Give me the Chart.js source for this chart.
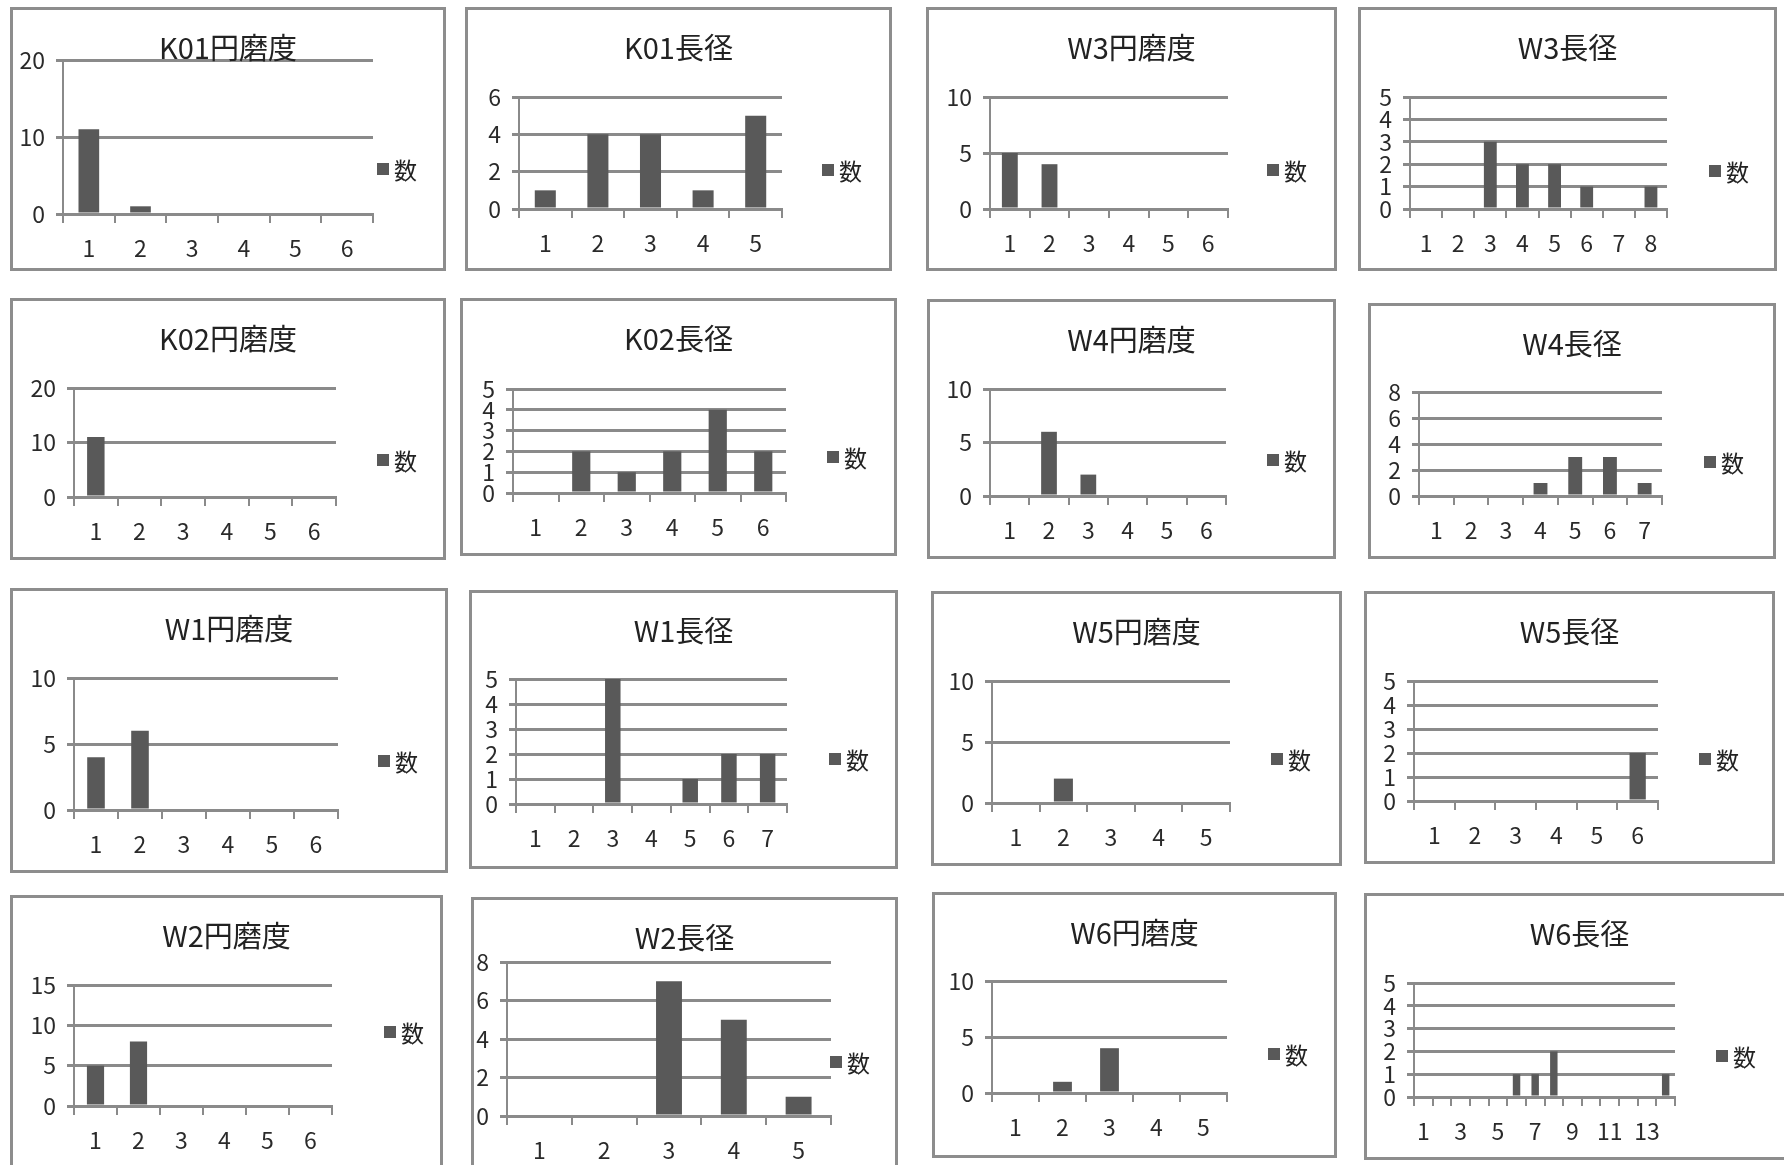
<!DOCTYPE html>
<html lang="ja">
<head>
<meta charset="utf-8">
<title>円磨度・長径の度数分布</title>
<script src="https://cdn.jsdelivr.net/npm/chart.js@4.4.1/dist/chart.umd.min.js"></script>
<style>
  html, body { margin: 0; padding: 0; background: #fff; overflow: hidden; width: 1784px; height: 1165px; }
  .frame { position: absolute; box-sizing: border-box; border: 3px solid #8d8d8d; pointer-events: none; }
  canvas.plot { position: absolute; }
  .title { position: absolute; text-align: center; font-family: 'Noto Sans CJK JP', sans-serif; font-size: 29px; color: #222; height: 32px; line-height: 32px; white-space: nowrap; }
  .legend { position: absolute; font-family: 'Noto Sans CJK JP', sans-serif; font-size: 23px; color: #222; height: 26px; line-height: 26px; display: flex; align-items: center; white-space: nowrap; }
  .legend i { display: inline-block; width: 12px; height: 12px; background: #595959; margin-right: 5px; }
</style>
</head>
<body>
<script>
// ---- series name and category labels ----
const seriesName = '数';
const cats5 = ['1', '2', '3', '4', '5'];
const cats6 = ['1', '2', '3', '4', '5', '6'];
const cats7 = ['1', '2', '3', '4', '5', '6', '7'];
const cats8 = ['1', '2', '3', '4', '5', '6', '7', '8'];
const cats14 = ['1', '2', '3', '4', '5', '6', '7', '8', '9', '10', '11', '12', '13', '14'];

// ---- counts per class ----
const k01Roundness = [11, 1, 0, 0, 0, 0];
const k01Length    = [1, 4, 4, 1, 5];
const w3Roundness  = [5, 4, 0, 0, 0, 0];
const w3Length     = [0, 0, 3, 2, 2, 1, 0, 1];
const k02Roundness = [11, 0, 0, 0, 0, 0];
const k02Length    = [0, 2, 1, 2, 4, 2];
const w4Roundness  = [0, 6, 2, 0, 0, 0];
const w4Length     = [0, 0, 0, 1, 3, 3, 1];
const w1Roundness  = [4, 6, 0, 0, 0, 0];
const w1Length     = [0, 0, 5, 0, 1, 2, 2];
const w5Roundness  = [0, 2, 0, 0, 0];
const w5Length     = [0, 0, 0, 0, 0, 2];
const w2Roundness  = [5, 8, 0, 0, 0, 0];
const w2Length     = [0, 0, 7, 5, 1];
const w6Roundness  = [0, 1, 4, 0, 0];
const w6Length     = [0, 0, 0, 0, 0, 1, 1, 2, 0, 0, 0, 0, 0, 1];

// ---- panel titles, value axis ranges ----
const titles = ['K01円磨度', 'K01長径', 'W3円磨度', 'W3長径',
                'K02円磨度', 'K02長径', 'W4円磨度', 'W4長径',
                'W1円磨度', 'W1長径', 'W5円磨度', 'W5長径',
                'W2円磨度', 'W2長径', 'W6円磨度', 'W6長径'];
const categories = [cats6, cats5, cats6, cats8,
                    cats6, cats6, cats6, cats7,
                    cats6, cats7, cats5, cats6,
                    cats6, cats5, cats5, cats14];
const values = [k01Roundness, k01Length, w3Roundness, w3Length,
                k02Roundness, k02Length, w4Roundness, w4Length,
                w1Roundness, w1Length, w5Roundness, w5Length,
                w2Roundness, w2Length, w6Roundness, w6Length];
const yMaxes = [20, 6, 10, 5, 20, 5, 10, 8, 10, 5, 10, 5, 15, 8, 10, 5];
const ySteps = [10, 2, 5, 1, 10, 1, 5, 2, 5, 1, 5, 1, 5, 2, 5, 1];
const xLabelEvery = [1, 1, 1, 1, 1, 1, 1, 1, 1, 1, 1, 1, 1, 1, 1, 2];

// ---- page layout: frame box, plot area, legend anchor (px) ----
// [boxL, boxT, boxR, boxB, axisX, plotTop, plotRight, plotBottom, legendX, legendY]
const layout = [
  [10, 7, 446, 271,     63, 60, 373, 214,     377, 169],
  [465, 7, 892, 271,    519, 97, 782, 209,    822, 170],
  [926, 7, 1337, 271,   990, 97, 1228, 209,   1267, 170],
  [1358, 7, 1777, 271,  1410, 97, 1667, 209,  1709, 171],
  [10, 298, 446, 560,   74, 388, 336, 497,    377, 460],
  [460, 298, 897, 556,  513, 389, 786, 493,   827, 457],
  [927, 299, 1336, 559, 990, 389, 1226, 496,  1267, 460],
  [1368, 303, 1776, 559, 1419, 392, 1662, 496, 1704, 462],
  [10, 588, 448, 873,   74, 678, 338, 810,    378, 761],
  [469, 590, 898, 869,  516, 679, 787, 804,   829, 759],
  [931, 591, 1342, 866, 992, 681, 1230, 803,  1271, 759],
  [1364, 591, 1775, 864, 1414, 681, 1658, 801, 1699, 759],
  [10, 895, 443, 1175,  74, 985, 332, 1106,   384, 1032],
  [471, 897, 898, 1175, 507, 962, 831, 1116,  830, 1062],
  [932, 892, 1337, 1158, 992, 981, 1227, 1093, 1268, 1054],
  [1364, 893, 1795, 1160, 1414, 983, 1675, 1097, 1716, 1056]
];

const GRID = '#8a8a8a';
const BAR = '#595959';
const TEXT = '#2a2a2a';
const FONT = "'Noto Sans CJK JP', sans-serif";
const TICK_SIZE = 23;
const Y_AXIS_W = 50;   // room for the value labels left of the axis
const X_AXIS_H = 56;   // room for tick marks and class labels below the axis
const CANVAS_MARGIN = 40;

function el(tag, cls, styles) {
  const e = document.createElement(tag);
  if (cls) e.className = cls;
  Object.assign(e.style, styles);
  document.body.appendChild(e);
  return e;
}

titles.forEach((title, i) => {
  const [bl, bt, br, bb, ax, pt, pr, pb, lx, ly] = layout[i];
  const w = br - bl, h = bb - bt;

  // canvas reaches a little beyond the frame so axis labels are never cut
  const cl = bl - CANVAS_MARGIN, ct = bt, cr = br, cb = bb + CANVAS_MARGIN;
  const canvas = el('canvas', 'plot', { left: cl + 'px', top: ct + 'px' });
  canvas.width = cr - cl; canvas.height = cb - ct;

  el('div', 'frame', { left: bl + 'px', top: bt + 'px', width: w + 'px', height: h + 'px' });

  const t = el('div', 'title', { left: bl + 'px', width: w + 'px', top: (bt + 39 - 16) + 'px' });
  t.textContent = title;

  const lg = el('div', 'legend', { left: lx + 'px', top: (ly - 13) + 'px' });
  lg.appendChild(document.createElement('i'));
  lg.appendChild(document.createTextNode(seriesName));

  const every = xLabelEvery[i];

  new Chart(canvas, {
    type: 'bar',
    data: {
      labels: categories[i],
      datasets: [{
        label: seriesName,
        data: values[i],
        backgroundColor: BAR,
        borderWidth: 0,
        barPercentage: 0.4,
        categoryPercentage: 1.0
      }]
    },
    options: {
      responsive: false,
      animation: false,
      layout: {
        padding: {
          left: ax - Y_AXIS_W - cl,
          top: pt - ct,
          right: cr - pr,
          bottom: cb - pb - X_AXIS_H
        }
      },
      plugins: {
        legend: { display: false },
        title: { display: false },
        tooltip: { enabled: false }
      },
      scales: {
        x: {
          offset: true,
          grid: { display: true, drawOnChartArea: false, drawTicks: true, tickLength: 9, color: GRID, lineWidth: 2, offset: true },
          border: { display: true, color: GRID, width: 3 },
          ticks: {
            autoSkip: false, maxRotation: 0, padding: 11, color: TEXT,
            font: { family: FONT, size: TICK_SIZE },
            callback: function (v, idx) { return idx % every === 0 ? this.getLabelForValue(v) : ''; }
          },
          afterFit: s => { s.height = X_AXIS_H; }
        },
        y: {
          min: 0, max: yMaxes[i],
          grid: { color: GRID, lineWidth: 3, drawTicks: true, tickLength: 7 },
          border: { display: true, color: GRID, width: 2 },
          ticks: { stepSize: ySteps[i], autoSkip: false, padding: 11, color: TEXT, font: { family: FONT, size: TICK_SIZE } },
          afterFit: s => { s.width = Y_AXIS_W; }
        }
      }
    }
  });
});
</script>
</body>
</html>
